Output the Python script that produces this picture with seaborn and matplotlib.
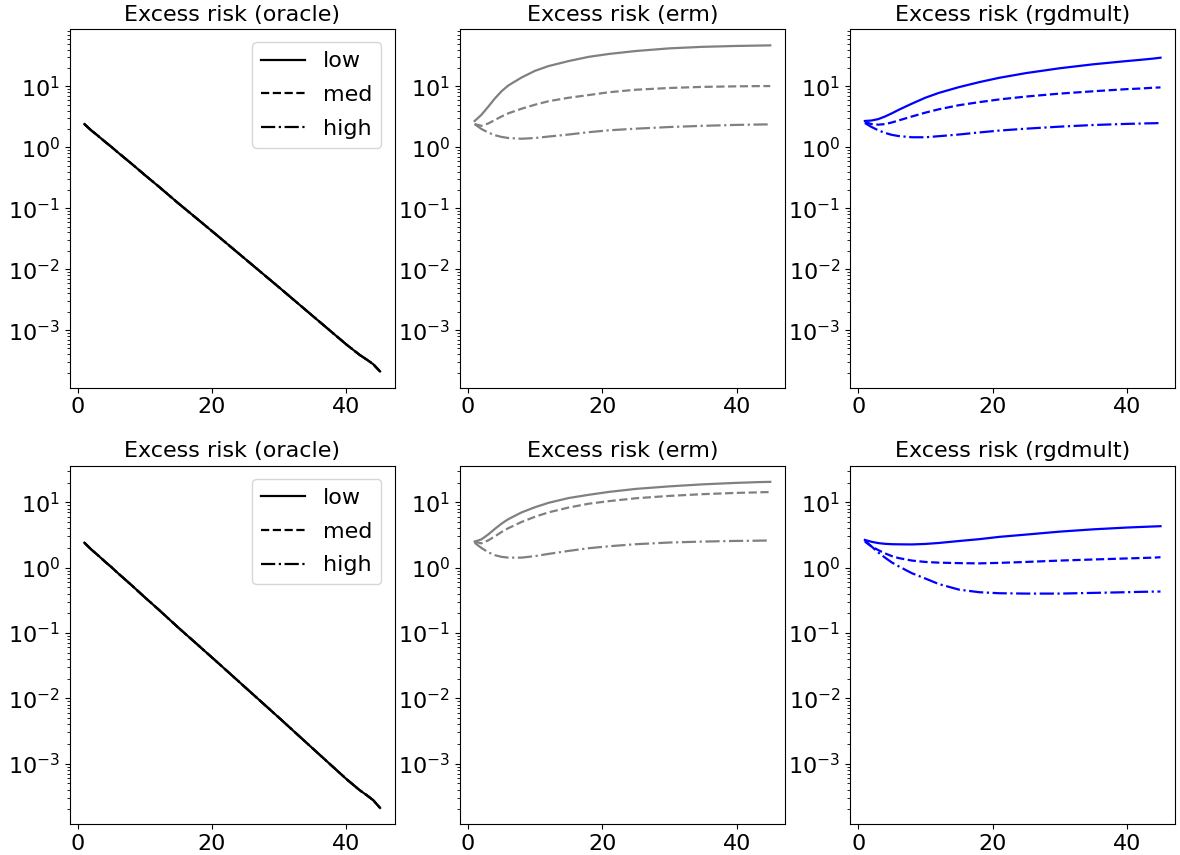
import matplotlib

matplotlib.use("Agg")
import matplotlib.pyplot as plt
import seaborn as sns

# iteration grid the curves were read at
steps = [1, 2, 3, 4, 5, 6, 8, 10, 12, 15, 18, 21, 25, 30, 35, 40, 42, 43, 44, 45]

noise_levels = ["low", "med", "high"]
methods = ["oracle", "erm", "rgdmult"]

# oracle curve is identical for every noise level and both rows
oracle_risk = [2.4, 1.9, 1.55, 1.25, 1.02, 0.82, 0.54, 0.35, 0.23, 0.12, 0.064,
               0.034, 0.0145, 0.0050, 0.0017, 5.8e-4, 3.9e-4, 3.3e-4, 2.75e-4, 2.1e-4]

# top row
erm_top_low = [2.7, 3.4, 4.6, 6.3, 8.3, 10.3, 14.0, 18.0, 21.5, 26.0, 30.5,
               34.0, 38.0, 42.0, 44.5, 46.0, 46.4, 46.6, 46.8, 47.0]
erm_top_med = [2.4, 2.25, 2.45, 2.8, 3.2, 3.6, 4.3, 5.0, 5.7, 6.5, 7.2,
               8.0, 8.8, 9.4, 9.8, 10.0, 10.05, 10.08, 10.1, 10.1]
erm_top_high = [2.4, 2.0, 1.75, 1.58, 1.48, 1.42, 1.38, 1.42, 1.5, 1.62, 1.77,
                1.9, 2.02, 2.15, 2.25, 2.33, 2.35, 2.36, 2.37, 2.37]
rgd_top_low = [2.7, 2.75, 2.9, 3.2, 3.6, 4.1, 5.2, 6.5, 7.8, 9.7, 11.7,
               13.8, 16.5, 19.8, 23.0, 26.0, 27.2, 27.9, 28.6, 29.5]
rgd_top_med = [2.6, 2.4, 2.35, 2.4, 2.55, 2.75, 3.2, 3.7, 4.2, 4.9, 5.5,
               6.1, 6.8, 7.6, 8.3, 9.0, 9.2, 9.35, 9.5, 9.6]
rgd_top_high = [2.5, 2.15, 1.9, 1.72, 1.6, 1.53, 1.46, 1.46, 1.52, 1.62, 1.75,
                1.88, 2.02, 2.18, 2.32, 2.42, 2.45, 2.47, 2.48, 2.5]

# bottom row
erm_bot_low = [2.5, 2.7, 3.2, 3.9, 4.7, 5.5, 7.0, 8.4, 9.8, 11.6, 13.0,
               14.4, 16.0, 17.5, 18.8, 19.8, 20.1, 20.3, 20.4, 20.5]
erm_bot_med = [2.5, 2.35, 2.6, 3.0, 3.5, 4.0, 5.0, 6.0, 7.0, 8.3, 9.5,
               10.4, 11.5, 12.5, 13.3, 13.9, 14.05, 14.15, 14.25, 14.3]
erm_bot_high = [2.4, 2.0, 1.72, 1.55, 1.46, 1.42, 1.42, 1.5, 1.62, 1.8, 1.98,
                2.12, 2.28, 2.42, 2.5, 2.56, 2.57, 2.58, 2.59, 2.6]
rgd_bot_low = [2.65, 2.48, 2.37, 2.31, 2.28, 2.27, 2.26, 2.3, 2.38, 2.55, 2.72,
               2.95, 3.2, 3.55, 3.85, 4.1, 4.18, 4.22, 4.26, 4.3]
rgd_bot_med = [2.5, 2.1, 1.85, 1.65, 1.5, 1.4, 1.28, 1.22, 1.19, 1.17, 1.16,
               1.18, 1.22, 1.28, 1.33, 1.38, 1.4, 1.41, 1.42, 1.44]
rgd_bot_high = [2.6, 2.1, 1.7, 1.42, 1.2, 1.05, 0.82, 0.68, 0.56, 0.46, 0.42,
                0.405, 0.4, 0.4, 0.41, 0.42, 0.425, 0.427, 0.429, 0.43]

rows = [
    {
        "oracle": [oracle_risk, oracle_risk, oracle_risk],
        "erm": [erm_top_low, erm_top_med, erm_top_high],
        "rgdmult": [rgd_top_low, rgd_top_med, rgd_top_high],
    },
    {
        "oracle": [oracle_risk, oracle_risk, oracle_risk],
        "erm": [erm_bot_low, erm_bot_med, erm_bot_high],
        "rgdmult": [rgd_bot_low, rgd_bot_med, rgd_bot_high],
    },
]

method_colors = {"oracle": "black", "erm": "gray", "rgdmult": "blue"}
level_styles = {"low": "-", "med": "--", "high": "-."}

fig, axes = plt.subplots(2, 3, figsize=(11.8, 8.55), dpi=100, sharey="row")

for r, row in enumerate(rows):
    for c, method in enumerate(methods):
        ax = axes[r, c]
        for level, values in zip(noise_levels, row[method]):
            sns.lineplot(
                x=steps,
                y=values,
                ax=ax,
                color=method_colors[method],
                linestyle=level_styles[level],
                linewidth=1.6,
                label=level if method == "oracle" else None,
            )
        ax.set_yscale("log")
        ax.set_title(f"Excess risk ({method})", fontsize=16)
        ax.set_xticks([0, 20, 40])
        ax.tick_params(labelsize=16, labelleft=True)
        if method == "oracle":
            ax.legend(loc="upper right", fontsize=16, labelspacing=0.62,
                      borderaxespad=0.6)
        elif ax.get_legend() is not None:
            ax.get_legend().remove()

plt.subplots_adjust(left=0.059, right=0.996, top=0.966, bottom=0.036,
                    wspace=0.2, hspace=0.217)
plt.savefig("out.png", dpi=100)
plt.close()
